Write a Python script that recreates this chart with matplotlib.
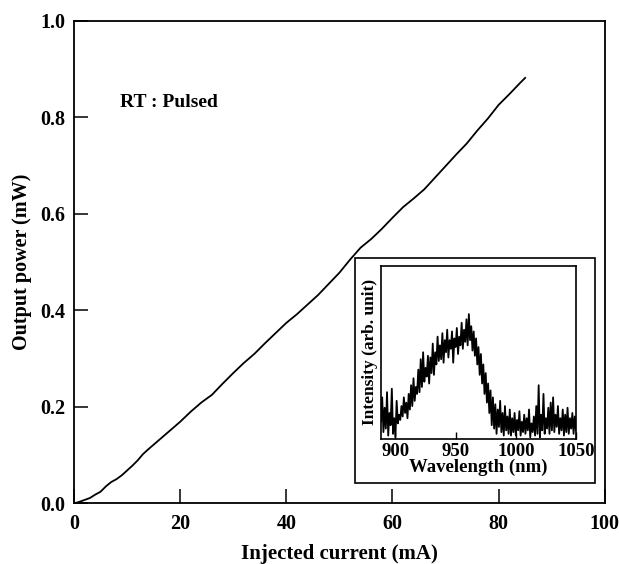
import numpy as np
import matplotlib
matplotlib.use('Agg')
import matplotlib.pyplot as plt
from matplotlib.patches import Rectangle

plt.rcParams['font.family'] = ['Liberation Serif', 'DejaVu Serif']
plt.rcParams['font.weight'] = 'bold'

# Light output vs. injected current (room temperature, pulsed)
current_mA = [0, 1, 2, 3, 4, 5, 6, 7, 8, 9, 10, 11, 12, 13, 14, 16, 18, 20, 22, 24,
              26, 28, 30, 32, 34, 36, 38, 40, 42, 44, 46, 48, 50, 52, 54, 56, 58, 60,
              62, 64, 66, 68, 70, 72, 74, 76, 78, 80, 82, 84, 85]
power_mW = [0.0, 0.003, 0.007, 0.011, 0.018, 0.024, 0.035, 0.044, 0.050, 0.058, 0.068,
            0.078, 0.089, 0.102, 0.112, 0.131, 0.150, 0.169, 0.190, 0.209, 0.225, 0.248,
            0.270, 0.291, 0.310, 0.332, 0.353, 0.374, 0.392, 0.412, 0.432, 0.455, 0.478,
            0.505, 0.530, 0.548, 0.569, 0.592, 0.614, 0.632, 0.651, 0.675, 0.699, 0.723,
            0.746, 0.773, 0.798, 0.826, 0.848, 0.871, 0.882]

# Emission spectrum, 1 nm steps from 888 nm
wl_start, wl_stop = 888, 1050
intensity = [
    0.10, 0.24, 0.04, 0.18, 0.06, 0.27, 0.02, 0.15, 0.08, 0.29,
    0.03, 0.12, 0.01, 0.22, 0.09, 0.14, 0.11, 0.19, 0.13, 0.24,
    0.15, 0.21, 0.12, 0.26, 0.17, 0.31, 0.19, 0.35, 0.22, 0.30,
    0.26, 0.40, 0.27, 0.46, 0.30, 0.50, 0.33, 0.41, 0.36, 0.48,
    0.32, 0.47, 0.38, 0.55, 0.37, 0.50, 0.43, 0.59, 0.45, 0.54,
    0.46, 0.61, 0.44, 0.57, 0.50, 0.63, 0.47, 0.57, 0.52, 0.62,
    0.44, 0.58, 0.53, 0.64, 0.49, 0.59, 0.54, 0.67, 0.52, 0.63,
    0.56, 0.69, 0.54, 0.72, 0.57, 0.65, 0.51, 0.62, 0.48, 0.58,
    0.43, 0.53, 0.37, 0.49, 0.32, 0.43, 0.26, 0.38, 0.21, 0.32,
    0.15, 0.28, 0.08, 0.24, 0.06, 0.20, 0.03, 0.17, 0.07, 0.22,
    0.04, 0.15, 0.02, 0.19, 0.05, 0.13, 0.03, 0.17, 0.02, 0.12,
    0.04, 0.15, 0.02, 0.11, 0.05, 0.16, 0.02, 0.10, 0.04, 0.14,
    0.03, 0.12, 0.05, 0.17, 0.01, 0.09, 0.04, 0.13, 0.02, 0.19,
    0.03, 0.31, 0.01, 0.14, 0.05, 0.26, 0.03, 0.12, 0.06, 0.18,
    0.03, 0.21, 0.05, 0.24, 0.04, 0.14, 0.07, 0.19, 0.03, 0.12,
    0.05, 0.17, 0.02, 0.14, 0.04, 0.18, 0.03, 0.12, 0.06, 0.15,
    0.03, 0.13, 0.05,
]
wavelength = np.arange(wl_start, wl_stop + 1)

x_ticks = [0, 20, 40, 60, 80, 100]
y_ticks = [0.0, 0.2, 0.4, 0.6, 0.8, 1.0]
inset_ticks = [900, 950, 1000, 1050]

fig = plt.figure(figsize=(6.19, 5.64), dpi=100)
ax = fig.add_axes([0.1195, 0.1076, 0.8575, 0.8552])
ax.plot(current_mA, power_mW, color='black', lw=1.3)
ax.set_xlim(0, 100)
ax.set_ylim(0, 1.0)
ax.set_xticks(x_ticks)
ax.set_yticks(y_ticks)
ax.set_yticklabels([f'{v:.1f}' for v in y_ticks])
ax.tick_params(direction='in', length=10, width=1.1, labelsize=14.5, pad=6)
ax.tick_params(axis='x', pad=8)
for s in ax.spines.values():
    s.set_linewidth(1.3)
ax.set_xlabel('Injected current (mA)', fontsize=15, fontweight='bold', labelpad=7)
ax.set_ylabel('Output power (mW)', fontsize=14.5, fontweight='bold', labelpad=6)
ax.text(8.6, 0.83, 'RT : Pulsed', fontsize=14, fontweight='bold', va='center')

# white frame behind the inset
box = Rectangle((0.573, 0.1436), 0.3885, 0.3995, transform=fig.transFigure,
                facecolor='white', edgecolor='black', lw=1.2, zorder=1)
fig.patches.append(box)

ins = fig.add_axes([0.6155, 0.2216, 0.315, 0.3076])
ins.set_zorder(3)
ins.plot(wavelength, intensity, color='black', lw=1.3)
ins.set_xlim(wl_start, wl_stop)
ins.set_ylim(0, 1.0)
ins.set_xticks(inset_ticks)
ins.set_yticks([])
ins.tick_params(direction='in', length=5, width=1.0, labelsize=13.5, pad=3)
for s in ins.spines.values():
    s.set_linewidth(1.2)
ins.set_xlabel('Wavelength (nm)', fontsize=13.5, fontweight='bold', labelpad=-1)
ins.set_ylabel('Intensity (arb. unit)', fontsize=12.5, fontweight='bold', labelpad=2)

fig.savefig('out.png', dpi=100)
